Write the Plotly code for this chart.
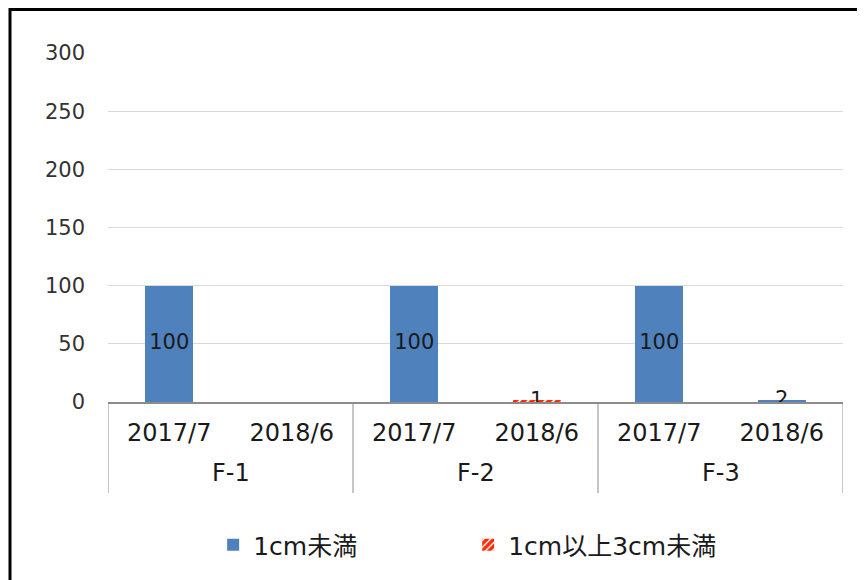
import plotly.graph_objects as go

groups = ["F-1", "F-1", "F-2", "F-2", "F-3", "F-3"]
dates = ["2017/7", "2018/6", "2017/7", "2018/6", "2017/7", "2018/6"]
group_names = ["F-1", "F-2", "F-3"]
series_names = ["1cm未満", "1cm以上3cm未満"]
under1 = [100, None, 100, None, 100, 2]
from1to3 = [None, None, None, 1, None, None]
y_ticks = [0, 50, 100, 150, 200, 250, 300]

FONT = "DejaVu Sans, Noto Sans CJK JP"
TXT = "#1a1a1a"
cats = [f"{g} {d}" for g, d in zip(groups, dates)]

fig = go.Figure()
fig.add_trace(go.Bar(
    x=cats, y=under1, name=series_names[0],
    marker=dict(color="#4F81BD", line=dict(width=0)),
))
fig.add_trace(go.Bar(
    x=cats, y=from1to3, name=series_names[1],
    marker=dict(color="white", line=dict(width=0),
                pattern=dict(shape="/", fgcolor="#FF2A00", bgcolor="white",
                             size=6, solidity=0.7, fgopacity=1)),
))

# data labels at the centre of each stacked segment
def centres(base, vals):
    out = []
    for b, v in zip(base, vals):
        out.append(None if v is None else (b or 0) + v / 2)
    return out

blue_pos = centres([0] * 6, under1)
red_pos = centres(under1, from1to3)
for vals, pos in ((under1, blue_pos), (from1to3, red_pos)):
    fig.add_trace(go.Scatter(
        x=cats, y=pos, mode="text",
        text=["" if v is None else str(v) for v in vals],
        textposition="middle center",
        textfont=dict(family=FONT, size=21, color=TXT),
        showlegend=False, hoverinfo="skip",
    ))

# group labels (second level of the category axis) and dividers
annotations = []
for i, g in enumerate(group_names):
    annotations.append(dict(x=2 * i + 0.5, xref="x", y=-71 / 349, yref="paper",
                            text=g, showarrow=False, xanchor="center", yanchor="middle",
                            font=dict(family=FONT, size=24, color=TXT)))
shapes = []
for k in range(len(group_names) + 1):
    shapes.append(dict(type="line", xref="x", yref="paper", x0=2 * k - 0.5, x1=2 * k - 0.5,
                       y0=0, y1=-91 / 349, line=dict(color="#8c8c8c", width=1)))
# outer chart-area border
shapes.append(dict(type="rect", xref="paper", yref="paper",
                   x0=(2 - 100) / 735, x1=(854 - 100) / 735,
                   y0=(394 - 600) / 349, y1=(394 - 1.5) / 349,
                   line=dict(color="black", width=3), fillcolor="rgba(0,0,0,0)",
                   layer="above"))

fig.update_layout(
    width=865, height=580,
    barmode="stack", bargap=0.61,
    paper_bgcolor="white", plot_bgcolor="white",
    margin=dict(l=100, r=30, t=45, b=186),
    font=dict(family=FONT, size=22, color=TXT),
    showlegend=True,
    legend=dict(orientation="h", x=0.49, xanchor="center", y=-0.41, yanchor="middle",
                font=dict(family=FONT, size=25, color=TXT),
                entrywidth=210, entrywidthmode="pixels", traceorder="normal"),
    xaxis=dict(type="category", range=[-0.5, 5.5], showline=True, linecolor="#8c8c8c",
               linewidth=1.5, tickvals=cats, ticktext=dates,
               tickfont=dict(family=FONT, size=24, color=TXT),
               ticks="", showgrid=False, ticklabelstandoff=8),
    yaxis=dict(range=[0, 300], tickvals=y_ticks, showgrid=True, gridcolor="#d9d9d9",
               gridwidth=1, zeroline=False, showline=False, ticks="",
               tickfont=dict(family=FONT, size=21, color="#333333"),
               ticklabelstandoff=22),
    annotations=annotations,
    shapes=shapes,
)

fig.write_html("out.html")
